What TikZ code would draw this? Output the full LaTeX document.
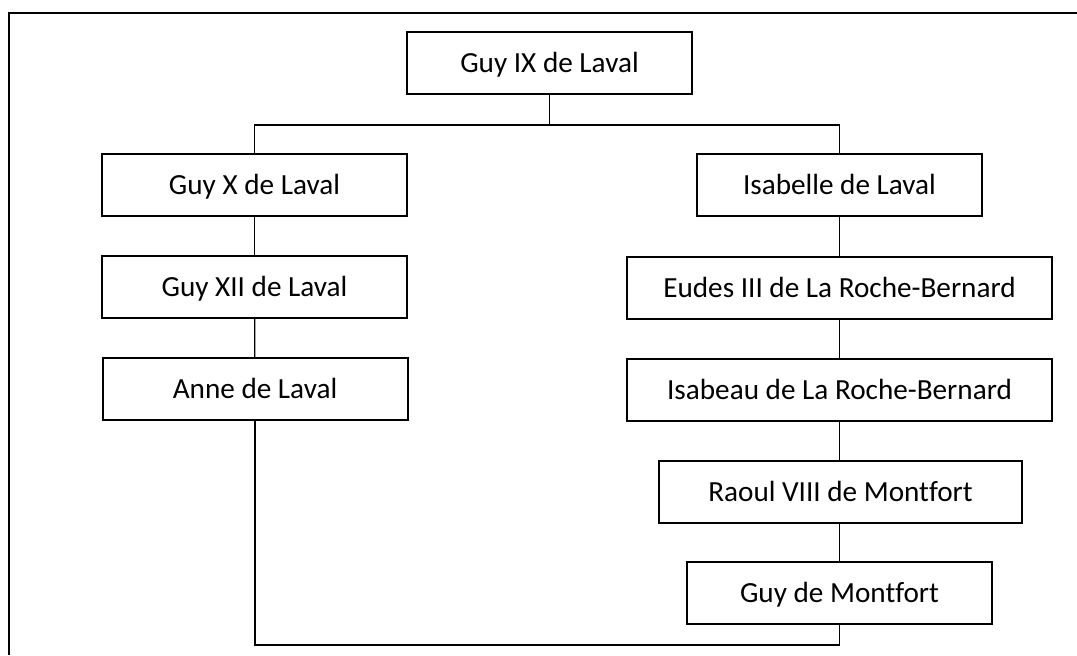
\documentclass[tikz,border=0pt]{standalone}
\usepackage{fontspec}
\setmainfont{Carlito}
\usetikzlibrary{calc}

\tikzset{
  person/.style={draw, line width=1pt, minimum height=31pt, inner sep=0pt,
    text height=9.4pt, text depth=0pt,
    font=\fontsize{14.6}{17}\selectfont},
  link/.style={line width=0.6pt},
  frame/.style={line width=1pt}
}

\begin{document}
\begin{tikzpicture}[x=0.5pt,y=-0.5pt]
      \useasboundingbox (0,0) rectangle (1077,655);
      \draw[frame] (1077,12.5) -- (9,12.5) -- (9,655);

      \node[person, minimum width=142.5pt] (gix) at (549.5,63) {Guy IX de Laval};

      \node[person, minimum width=152.5pt] (gx) at (254.5,185) {Guy X de Laval};
      \node[person, minimum width=152.5pt] (gxii) at (254.5,287) {Guy XII de Laval};
      \node[person, minimum width=152.5pt] (anne) at (255,389) {Anne de Laval};

      \node[person, minimum width=142.5pt] (isab) at (839.5,185) {Isabelle de Laval};
      \node[person, minimum width=212.5pt] (eudes) at (839.5,288) {Eudes III de La Roche-Bernard};
      \node[person, minimum width=212.5pt] (isabeau) at (839.5,390) {Isabeau de La Roche-Bernard};
      \node[person, minimum width=181.5pt] (raoul) at (840.5,492) {Raoul VIII de Mont\kern0ptfort};
      \node[person, minimum width=152.5pt] (gdm) at (839.5,593) {Guy de Mont\kern0ptfort};

      \coordinate (fork) at (549.5,125);
      \coordinate (base) at (547,645);

      \draw[link] (gix) -- (fork);
      \draw[link] (fork) -| (gx);
      \draw[link] (fork) -| (isab);

      \path[link] (gx) edge (gxii);
      \path[link] (gxii) edge (anne);

      \path[link] (isab) edge (eudes);
      \path[link] (eudes) edge (isabeau);
      \path[link] (isabeau) edge (raoul.north -| isabeau.south);
      \path[link] (raoul.south -| gdm.north) edge (gdm);

      \draw[link] (anne) |- (base) -| (gdm);
    \end{tikzpicture}
\end{document}
